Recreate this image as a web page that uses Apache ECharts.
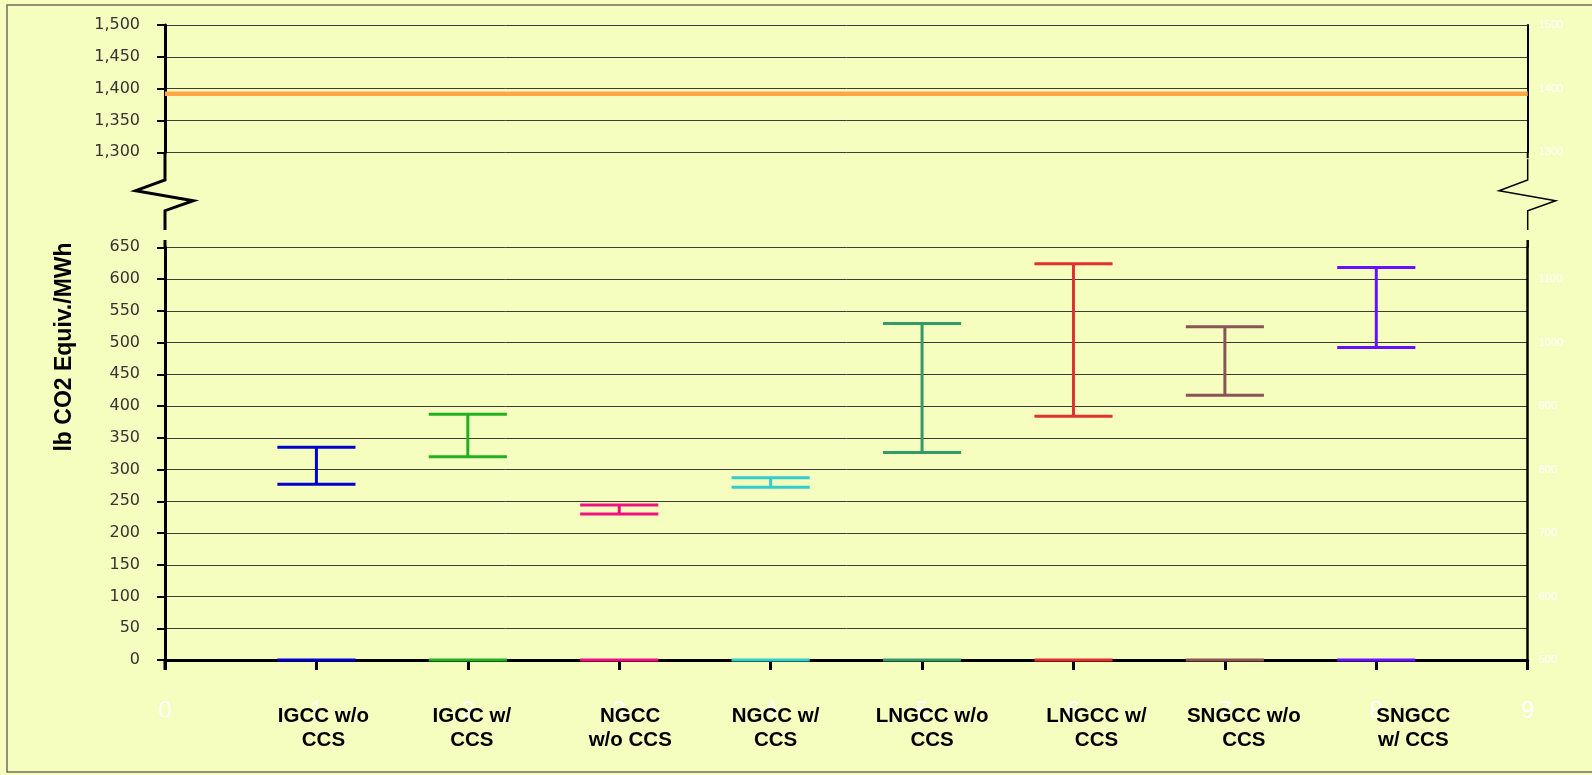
<!DOCTYPE html>
<html>
<head>
<meta charset="utf-8">
<script src="https://cdn.jsdelivr.net/npm/echarts@6/dist/echarts.min.js"></script>
<style>
html,body{margin:0;padding:0;background:#F6FEBF;}
#main{width:1592px;height:775px;}
</style>
</head>
<body>
<div id="main"></div>
<script>
// ---- data ----
const categories = ['IGCC w/o\nCCS','IGCC w/\nCCS','NGCC\nw/o CCS','NGCC w/\nCCS','LNGCC w/o\nCCS','LNGCC w/\nCCS','SNGCC w/o\nCCS','SNGCC\nw/ CCS'];
const xPositions = [1, 2, 3, 4, 5, 6, 7, 8];
const highValues = [335, 387, 244, 287, 530, 624, 525, 618];
const lowValues  = [277, 320, 230, 272, 327, 384, 417, 492];
const baseValues = [0, 0, 0, 0, 0, 0, 0, 0];
const referenceValue = 1392;
const xTickLabels = ['0','1','2','3','4','5','6','7','8','9'];
const yTitle = 'lb CO2 Equiv./MWh';

// ---- styles ----
const palette = ['#0000CC','#22B022','#EE1180','#33CCCC','#339966','#E03030','#885555','#6611FF'];
const labelShift = [7, 4, 11, 5, 10, 23, 19, 37];

const richStyles = {};
categories.forEach((c, i) => {
  richStyles['c' + i] = {
    fontFamily: 'Liberation Sans, Arial, sans-serif',
    fontWeight: 'bold', fontSize: 20.5, lineHeight: 24, color: '#000',
    padding: [0, 0, 0, labelShift[i] * 2]
  };
});

const errData = xPositions.map((x, i) => [x, lowValues[i], highValues[i], baseValues[i]]);

const gridLine = { show: true, lineStyle: { color: '#3c3c30', width: 1 } };
const leftLabel = { color: '#333', fontFamily: 'DejaVu Sans, Verdana, sans-serif', fontSize: 16, margin: 25 };
const rightLabel = { color: '#FFFFFF', fontFamily: 'Liberation Sans, Arial, sans-serif', fontSize: 11, margin: 11 };

const option = {
  backgroundColor: '#F6FEBF',
  animation: false,
  grid: [
    { left: 165, right: 64.3, top: 25, height: 127.3, outerBoundsMode: 'none', containLabel: false },
    { left: 165, right: 64.3, top: 247.3, height: 412.7, outerBoundsMode: 'none', containLabel: false }
  ],
  xAxis: [
    { gridIndex: 0, type: 'value', min: 0, max: 9, interval: 1, show: false, splitLine: { show: false } },
    { gridIndex: 1, type: 'value', min: 0, max: 9, interval: 1, position: 'bottom',
      axisLine: { show: true, onZero: false, lineStyle: { color: '#000', width: 3 } },
      axisTick: { show: true, length: 10, lineStyle: { color: '#000', width: 3 } },
      splitLine: { show: false },
      axisLabel: { color: '#FFFFFF', fontFamily: 'Liberation Sans, Arial, sans-serif', fontSize: 24, margin: 39,
        formatter: v => xTickLabels[Math.round(v)] } },
    { gridIndex: 1, type: 'value', min: 0, max: 9, interval: 1, position: 'bottom',
      axisLine: { show: false }, axisTick: { show: false }, splitLine: { show: false },
      axisLabel: { margin: 44, showMinLabel: true, showMaxLabel: true,
        formatter: v => {
          const i = xPositions.indexOf(Math.round(v));
          if (i < 0) return '';
          return categories[i].split('\n').map(s => '{c' + i + '|' + s + '}').join('\n');
        },
        rich: richStyles } }
  ],
  yAxis: [
    { gridIndex: 0, type: 'value', min: 1300, max: 1500, interval: 50, position: 'left',
      axisLine: { show: true, lineStyle: { color: '#000', width: 3 } },
      axisTick: { show: true, length: 8, lineStyle: { color: '#000', width: 2 } },
      splitLine: gridLine,
      axisLabel: Object.assign({}, leftLabel, { formatter: v => v.toLocaleString('en-US') }) },
    { gridIndex: 0, type: 'value', min: 1300, max: 1500, interval: 100, position: 'right',
      axisLine: { show: true, lineStyle: { color: '#000', width: 2 } },
      axisTick: { show: false }, splitLine: { show: false },
      axisLabel: Object.assign({}, rightLabel, { formatter: v => String(v) }) },
    { gridIndex: 1, type: 'value', min: 0, max: 650, interval: 50, position: 'left',
      axisLine: { show: true, onZero: false, lineStyle: { color: '#000', width: 3 } },
      axisTick: { show: true, length: 8, lineStyle: { color: '#000', width: 2 } },
      splitLine: gridLine,
      axisLabel: Object.assign({}, leftLabel, { formatter: v => String(v) }) },
    { gridIndex: 1, type: 'value', min: 500, max: 1150, interval: 50, position: 'right',
      axisLine: { show: true, onZero: false, lineStyle: { color: '#000', width: 2.5 } },
      axisTick: { show: false }, splitLine: { show: false },
      axisLabel: Object.assign({}, rightLabel, { formatter: v => (v % 100 === 0 ? String(v) : '') }) }
  ],
  series: [
    { type: 'line', xAxisIndex: 0, yAxisIndex: 0, symbol: 'none', silent: true,
      lineStyle: { color: '#FFA646', width: 4.5 },
      data: [[0, referenceValue], [9, referenceValue]], z: 5 },
    { type: 'custom', xAxisIndex: 1, yAxisIndex: 2, z: 10, clip: false,
      data: errData,
      renderItem: function (params, api) {
        const x = api.value(0);
        const pLow = api.coord([x, api.value(1)]);
        const pHigh = api.coord([x, api.value(2)]);
        const pBase = api.coord([x, api.value(3)]);
        const half = api.size([1, 0])[0] * 0.258;
        const col = palette[params.dataIndex];
        const st = { stroke: col, lineWidth: 3, fill: null };
        const ln = (x1, y1, x2, y2) => ({ type: 'line', shape: { x1, y1, x2, y2 }, style: st });
        return { type: 'group', children: [
          ln(pHigh[0], pHigh[1], pLow[0], pLow[1]),
          ln(pHigh[0] - half, pHigh[1], pHigh[0] + half, pHigh[1]),
          ln(pLow[0] - half, pLow[1], pLow[0] + half, pLow[1]),
          ln(pBase[0] - half, pBase[1], pBase[0] + half, pBase[1])
        ] };
      } }
  ]
};

const chart = echarts.init(document.getElementById('main'), null, { renderer: 'canvas' });
chart.setOption(option);

const tl = chart.convertToPixel({ gridIndex: 0 }, [0, 1300]);
const tr = chart.convertToPixel({ gridIndex: 0 }, [9, 1300]);
const bl = chart.convertToPixel({ gridIndex: 1 }, [0, 650]);
const br = chart.convertToPixel({ gridIndex: 1 }, [9, 650]);
const bz = chart.convertToPixel({ gridIndex: 1 }, [0, 0]);

function zig(x, yTop, dl, dr) {
  return [[x, yTop], [x, 180], [x - dl, 190.7], [x + dr, 200.7], [x, 210.7], [x, 230]];
}

chart.setOption({
  graphic: [
    { type: 'rect', shape: { x: 7, y: 5, width: 1700, height: 767 }, silent: true,
      style: { fill: null, stroke: '#6f6f58', lineWidth: 1.5 } },
    { type: 'polyline', shape: { points: zig(tl[0], tl[1], 29.3, 28.3) }, silent: true,
      style: { stroke: '#000', lineWidth: 3, fill: null } },
    { type: 'line', shape: { x1: bl[0], y1: 240, x2: bl[0], y2: bl[1] }, silent: true,
      style: { stroke: '#000', lineWidth: 3 } },
    { type: 'polyline', shape: { points: zig(tr[0], tr[1] + 7, 28.7, 28) }, silent: true,
      style: { stroke: '#000', lineWidth: 1.5, fill: null } },
    { type: 'line', shape: { x1: tr[0], y1: tr[1], x2: tr[0], y2: tr[1] + 6 }, silent: true,
      style: { stroke: '#000', lineWidth: 2 } },
    { type: 'line', shape: { x1: br[0], y1: 240, x2: br[0], y2: br[1] }, silent: true,
      style: { stroke: '#000', lineWidth: 2.5 } },
    { type: 'line', shape: { x1: bz[0], y1: bz[1], x2: bz[0], y2: bz[1] + 10 }, silent: true,
      style: { stroke: '#000', lineWidth: 3 } },
    { type: 'text', x: 65, y: 347, rotation: Math.PI / 2, silent: true,
      style: { text: yTitle, fill: '#000', fontFamily: 'Liberation Sans, Arial, sans-serif',
        fontWeight: 'bold', fontSize: 23, align: 'center', verticalAlign: 'middle' } }
  ]
});
</script>
</body>
</html>
